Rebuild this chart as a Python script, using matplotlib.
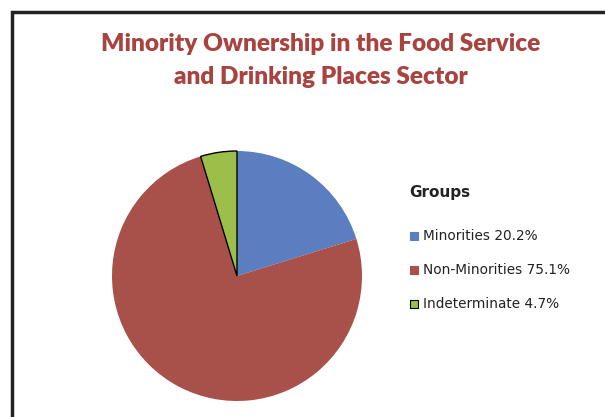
import matplotlib
matplotlib.use("Agg")
import matplotlib.pyplot as plt
from matplotlib.patches import Rectangle

# data
groups = ["Minorities", "Non-Minorities", "Indeterminate"]
shares = [20.2, 75.1, 4.7]
colors = ["#5a7ebf", "#a8504a", "#9cbf4a"]
edges = ["none", "none", "black"]

W, H = 605, 417
fig = plt.figure(figsize=(W / 100, H / 100), dpi=100)
fig.patch.set_facecolor("white")

# frame (clipped on the right and bottom like the scan)
fig.patches.append(Rectangle((12 / W, -0.1), 1.2, 1.1 - 12 / H,
                             transform=fig.transFigure, fill=False,
                             edgecolor="#222222", linewidth=2.5))

title_kw = dict(ha="center", va="center", fontsize=17.6, fontweight="heavy",
                family="Lato", color="#a8433f")
fig.text(321 / W, 1 - 44 / H, "Minority Ownership in the Food Service", **title_kw)
fig.text(321 / W, 1 - 77 / H, "and Drinking Places Sector", **title_kw)

ax = fig.add_axes([112 / W, (417 - 276 - 125) / H, 250 / W, 250 / H])
wedges, _ = ax.pie(shares, colors=colors, startangle=90, counterclock=False,
                   radius=1.0)
for w, ec in zip(wedges, edges):
    w.set_edgecolor(ec)
    w.set_linewidth(1.0 if ec != "none" else 0)
ax.set_xlim(-1.0, 1.0)
ax.set_ylim(-1.0, 1.0)
ax.set_aspect("equal")

# legend
fig.text(409 / W, 1 - 193 / H, "Groups", ha="left", va="center",
         fontsize=11, fontweight="bold", family="DejaVu Sans", color="#222222")
for i, (g, s, c, ec) in enumerate(zip(groups, shares, colors, edges)):
    y = 236 + i * 34
    fig.patches.append(Rectangle((410 / W, 1 - (y + 4) / H), 8 / W, 8 / H,
                                 transform=fig.transFigure, facecolor=c,
                                 edgecolor="black" if ec != "none" else c,
                                 linewidth=0.8))
    fig.text(423 / W, 1 - y / H, f"{g} {s}%", ha="left", va="center",
             fontsize=9.8, family="DejaVu Sans", color="#222222")

fig.savefig("out.png", dpi=100)
